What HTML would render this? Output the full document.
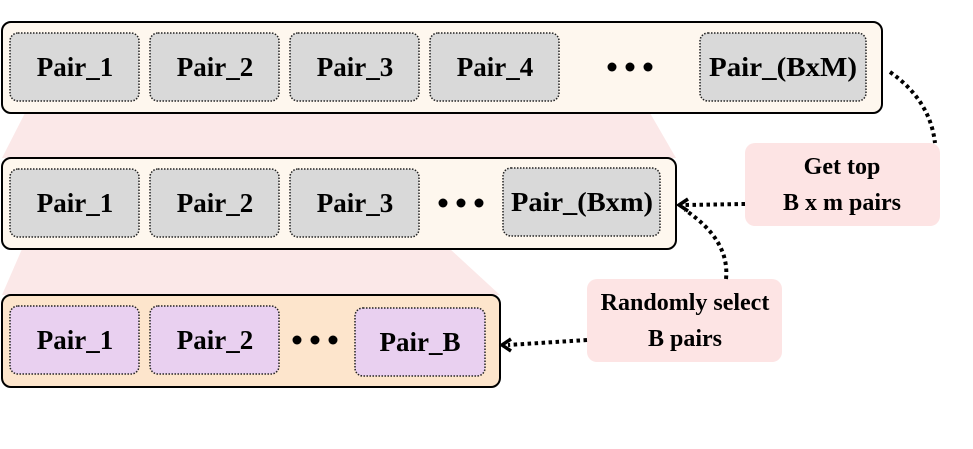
<!DOCTYPE html>
<html><head><style>
body{margin:0;background:#fff;}
svg text{font-family:"Liberation Serif",serif;font-weight:bold;}
</style></head><body>
<svg width="973" height="444" viewBox="0 0 973 444" xmlns="http://www.w3.org/2000/svg">
<polygon points="25,113 650,113 676,158 2,158" fill="#fbe8e8"/>
<polygon points="22,249 450,249 500,295 2,295" fill="#fbe8e8"/>
<g stroke="#000" stroke-width="2">
<rect x="2" y="22" width="880" height="91" rx="9" fill="#fef7ee"/>
<rect x="2" y="158" width="674" height="91" rx="9" fill="#fef7ee"/>
<rect x="2" y="295" width="498" height="92" rx="9" fill="#fde5cc"/>
</g>
<g stroke="#222" stroke-width="1.5" stroke-dasharray="1.5 1.5" fill="#d9d9d9">
<rect x="10" y="33" width="129" height="68" rx="8"/>
<rect x="150" y="33" width="129" height="68" rx="8"/>
<rect x="290" y="33" width="129" height="68" rx="8"/>
<rect x="430" y="33" width="129" height="68" rx="8"/>
<rect x="700" y="33" width="166" height="68" rx="8"/>
<rect x="10" y="169" width="129" height="68" rx="8"/>
<rect x="150" y="169" width="129" height="68" rx="8"/>
<rect x="290" y="169" width="129" height="68" rx="8"/>
<rect x="503" y="168" width="157" height="68" rx="8"/>
</g>
<g stroke="#222" stroke-width="1.5" stroke-dasharray="1.5 1.5" fill="#e9d0f0">
<rect x="10" y="306" width="129" height="68" rx="8"/>
<rect x="150" y="306" width="129" height="68" rx="8"/>
<rect x="355" y="308" width="130" height="68" rx="8"/>
</g>
<g font-size="27" text-anchor="middle" fill="#000">
<text x="75" y="76">Pair_1</text><text x="215" y="76">Pair_2</text><text x="355" y="76">Pair_3</text><text x="495" y="76">Pair_4</text><text x="783" y="76" textLength="148" lengthAdjust="spacingAndGlyphs">Pair_(BxM)</text>
<text x="75" y="212">Pair_1</text><text x="215" y="212">Pair_2</text><text x="355" y="212">Pair_3</text><text x="582" y="211" textLength="142" lengthAdjust="spacingAndGlyphs">Pair_(Bxm)</text>
<text x="75" y="349">Pair_1</text><text x="215" y="349">Pair_2</text><text x="420" y="351">Pair_B</text>
</g>
<g fill="#000">
<circle cx="612" cy="67" r="4.5"/><circle cx="630" cy="67" r="4.5"/><circle cx="648" cy="67" r="4.5"/>
<circle cx="443" cy="203" r="4.5"/><circle cx="461" cy="203" r="4.5"/><circle cx="479" cy="203" r="4.5"/>
<circle cx="297" cy="340" r="4.5"/><circle cx="315" cy="340" r="4.5"/><circle cx="333" cy="340" r="4.5"/>
</g>
<rect x="745" y="143" width="195" height="83" rx="10" fill="#fde4e4"/>
<rect x="587" y="279" width="195" height="83" rx="10" fill="#fde4e4"/>
<g font-size="24" text-anchor="middle" fill="#000">
<text x="842" y="174">Get top</text><text x="842" y="210">B x m pairs</text>
<text x="685" y="310">Randomly select</text><text x="685" y="346">B pairs</text>
</g>
<g fill="none" stroke="#000" stroke-width="4" stroke-dasharray="3.5 3.5">
<path d="M890,72 Q930,100 935,143"/>
<path d="M745,204 L685,205"/>
<path d="M726,279 Q730,240 685,210"/>
<path d="M587,340 L508,345"/>
</g>
<g fill="none" stroke="#000" stroke-width="3.5">
<path d="M688,199 L679,205 L688,211"/>
<path d="M511,339 L502,345 L511,351"/>
</g>
</svg>
</body></html>
